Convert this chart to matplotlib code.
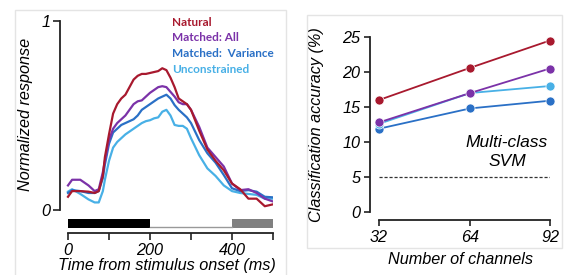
import matplotlib.pyplot as plt
from matplotlib.patches import Rectangle

# data
t = [0, 10, 30, 50, 65, 75, 85, 90, 100, 110, 120, 130, 140, 160, 170, 180, 190, 200, 210, 220,
     230, 240, 250, 260, 270, 280, 290, 300, 320, 340, 360, 380, 400, 420, 440, 460, 480, 500]

natural = [0.07, 0.10, 0.10, 0.097, 0.09, 0.10, 0.18, 0.28, 0.40, 0.51, 0.56, 0.59, 0.61, 0.69, 0.71, 0.72, 0.72, 0.725, 0.73, 0.735,
           0.75, 0.74, 0.70, 0.65, 0.59, 0.575, 0.56, 0.53, 0.42, 0.32, 0.26, 0.21, 0.14, 0.11, 0.06, 0.06, 0.02, 0.03]
matched_all = [0.13, 0.16, 0.16, 0.13, 0.10, 0.11, 0.20, 0.26, 0.37, 0.43, 0.46, 0.48, 0.50, 0.56, 0.575, 0.58, 0.60, 0.62, 0.635, 0.65,
               0.655, 0.65, 0.625, 0.60, 0.57, 0.56, 0.56, 0.53, 0.44, 0.33, 0.28, 0.23, 0.14, 0.105, 0.11, 0.09, 0.06, 0.045]
matched_var = [0.09, 0.105, 0.10, 0.09, 0.09, 0.10, 0.17, 0.24, 0.35, 0.41, 0.43, 0.45, 0.46, 0.48, 0.50, 0.53, 0.545, 0.56, 0.575, 0.59,
               0.60, 0.61, 0.59, 0.555, 0.53, 0.51, 0.49, 0.46, 0.37, 0.30, 0.25, 0.185, 0.115, 0.10, 0.105, 0.097, 0.07, 0.067]
unconstrained = [0.097, 0.11, 0.085, 0.056, 0.04, 0.04, 0.10, 0.16, 0.26, 0.33, 0.36, 0.38, 0.40, 0.43, 0.445, 0.46, 0.47, 0.475, 0.485, 0.49,
                 0.52, 0.53, 0.50, 0.45, 0.445, 0.445, 0.43, 0.38, 0.29, 0.22, 0.18, 0.13, 0.10, 0.09, 0.085, 0.08, 0.06, 0.06]

channels = [32, 64, 92]
acc_natural = [16.0, 20.6, 24.5]
acc_all = [12.8, 17.0, 20.5]
acc_unc = [12.6, 17.0, 18.0]
acc_var = [11.9, 14.8, 15.9]
chance = 5

names = ['Natural', 'Matched: All', 'Matched:  Variance', 'Unconstrained']
colors = ['#a8192e', '#7b32a8', '#2a70c6', '#48b0e6']

W, H = 568, 275
fig = plt.figure(figsize=(W / 100, H / 100), dpi=100)
fig.patch.set_facecolor('white')

def box(l, t_, r, b):
    return [l / W, 1 - b / H, (r - l) / W, (b - t_) / H]

# panel frames
fig.patches.append(Rectangle((15 / W, -0.1), (286 - 15) / W, 1 - 10 / H + 0.1, transform=fig.transFigure,
                             fill=False, edgecolor='#e4e4e4', lw=1))
fig.patches.append(Rectangle((307 / W, 1 - 248 / H), (562 - 307) / W, (248 - 15) / H, transform=fig.transFigure,
                             fill=False, edgecolor='#e4e4e4', lw=1))

lab = dict(family='Liberation Sans', style='italic', fontsize=11.7)

# LEFT PANEL
ax = fig.add_axes(box(60, 21, 273, 233))
for y, c in zip([natural, matched_all, matched_var, unconstrained][::-1], colors[::-1]):
    ax.plot(t, y, color=c, lw=1.6)
ax.set_xlim(-19.5, 500)
ax.set_ylim(-0.1217, 1)
for s in ['top', 'right']:
    ax.spines[s].set_visible(False)
ax.spines['left'].set_bounds(0, 1)
ax.spines['bottom'].set_bounds(0, 500)
for s in ['left', 'bottom']:
    ax.spines[s].set_linewidth(1.3)
    ax.spines[s].set_color('#222222')
ax.set_yticks([0, 1])
ax.set_yticklabels(['0', '1'], **lab)
ax.set_xticks([0, 100, 200, 300, 400, 500])
ax.set_xticklabels(['0', '', '200', '', '400', ''], **lab)
ax.tick_params(length=5, width=1.2, color='#222222', pad=2)
ax.set_ylabel('Normalized response', **lab)
ax.set_xlabel('Time from stimulus onset (ms)', labelpad=0, **lab)
ax.yaxis.set_label_coords(-0.125, 0.56)
# stimulus bars
ax.plot([200, 400], [-0.09, -0.09], color='#999999', lw=1, clip_on=False)
ax.fill_between([0, 200], -0.095, -0.048, color='black', lw=0)
ax.fill_between([400, 500], -0.095, -0.048, color='#808080', lw=0)

for i, (n, c) in enumerate(zip(names, colors)):
    fig.text(172 / W, 1 - (22 + 15.8 * i) / H, n, color=c, fontsize=8.5, fontweight='bold',
             family='Lato', va='center', ha='left')

# RIGHT PANEL
ax2 = fig.add_axes(box(370, 37, 550, 220))
for y, c in zip([acc_var, acc_unc, acc_all, acc_natural], [colors[2], colors[3], colors[1], colors[0]]):
    ax2.plot(channels, y, color=c, lw=1.3, marker='o', ms=6.5, mec='white', mew=0.5, clip_on=False, zorder=3)
ax2.plot([32, 92], [chance, chance], color='#333333', lw=0.9, ls=(0, (2.5, 1.5)))
ax2.set_xlim(28.84, 92)
ax2.set_ylim(-1.14, 25)
for s in ['top', 'right']:
    ax2.spines[s].set_visible(False)
ax2.spines['left'].set_bounds(0, 25)
ax2.spines['bottom'].set_bounds(32, 92)
for s in ['left', 'bottom']:
    ax2.spines[s].set_linewidth(1.3)
    ax2.spines[s].set_color('#222222')
ax2.set_yticks([0, 5, 10, 15, 20, 25])
ax2.set_yticklabels(['0', '5', '10', '15', '20', '25'], **lab)
ax2.set_xticks(channels)
ax2.set_xticklabels([str(c) for c in channels], **lab)
ax2.tick_params(length=4, width=1.2, color='#222222', pad=3)
ax2.set_ylabel('Classification accuracy (%)', **lab)
ax2.yaxis.set_label_coords(-0.255, 0.52)
ax2.set_xlabel('Number of channels', labelpad=5, **lab)
ax2.text(76.9, 8.6, 'Multi-class\nSVM', ha='center', va='center', linespacing=1.35,
         family='Liberation Sans', style='italic', fontsize=12.5)

fig.savefig('out.png', dpi=100)
